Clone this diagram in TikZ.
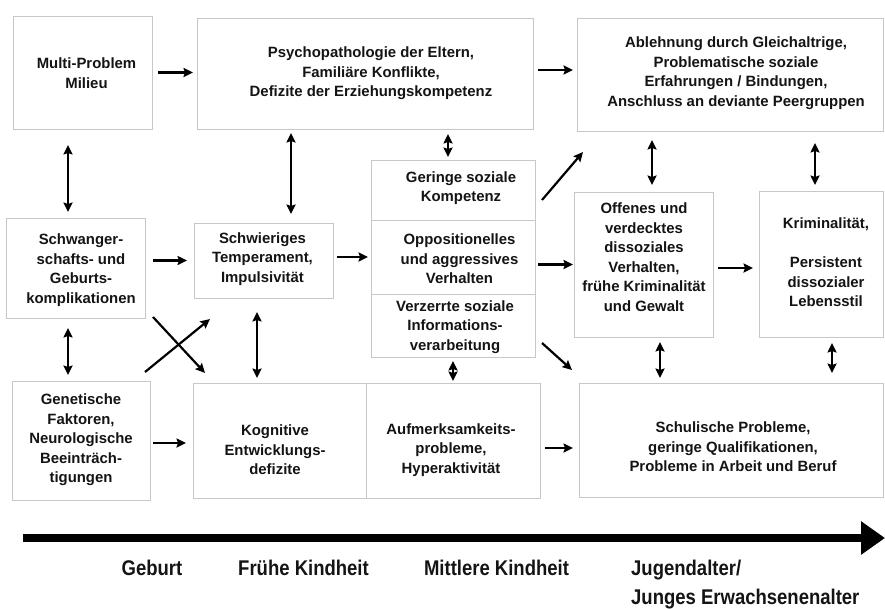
\documentclass[tikz,border=0pt]{standalone}
\usepackage{fontspec}
\setmainfont{Liberation Sans}
\usetikzlibrary{arrows.meta,calc}
\begin{document}
\begin{tikzpicture}[x=1pt,y=-1pt,
  box/.style={draw=black!22, line width=0.9pt, inner sep=0pt, outer sep=0pt},
  txt/.style={align=center, inner sep=0pt, text=black!92, font=\bfseries\fontsize{14.9}{19.5}\selectfont},
  lbl/.style={inner sep=0pt, text=black!92, font=\bfseries\fontsize{18.5}{22}\selectfont},
  arr/.style={draw, line width=2.2pt, -{Stealth[length=9.5pt,width=9pt,inset=1.5pt]}},
  dar/.style={draw, line width=2.2pt, {Stealth[length=9.5pt,width=9pt,inset=1.5pt]}-{Stealth[length=9.5pt,width=9pt,inset=1.5pt]}},
  tl/.style={draw, line width=8pt, -{Triangle[length=24pt,width=32pt]}}]
\fill[white] (0,0) rectangle (885,608);
\useasboundingbox (0,0) rectangle (885,608);

% boxes
\node[box, minimum width=139pt, minimum height=113pt] (multi) at (82.5,72.5) {};
\node[box, minimum width=336pt, minimum height=111pt] (psy) at (365,73.5) {};
\node[box, minimum width=306pt, minimum height=113pt] (abl) at (730,74.5) {};
\node[box, minimum width=139pt, minimum height=100pt] (schw) at (75.5,268) {};
\node[box, minimum width=139pt, minimum height=75pt] (temp) at (263.5,260.5) {};
\node[box, minimum width=164pt, minimum height=60pt] (ger) at (453,190) {};
\node[box, minimum width=164pt, minimum height=74pt] (opp) at (453,257) {};
\node[box, minimum width=164pt, minimum height=63pt] (ver) at (453,325.5) {};
\node[box, minimum width=139pt, minimum height=145pt] (off) at (643.5,264.5) {};
\node[box, minimum width=124pt, minimum height=146pt] (krim) at (821,264) {};
\node[box, minimum width=138pt, minimum height=119pt] (gen) at (81,440.5) {};
\node[box, minimum width=173pt, minimum height=115pt] (kog) at (279.5,440.5) {};
\node[box, minimum width=174pt, minimum height=115pt] (auf) at (453,440.5) {};
\node[box, minimum width=304pt, minimum height=114pt] (sch) at (731,440) {};

% texts
\node[txt] (multiT) at (86.5,73) {Multi-Problem\\Milieu};
\node[txt] (psyT) at (371,73.5) {Psychopathologie der Eltern,\\Familiäre Konflikte,\\Defizite der Erziehungskompetenz};
\node[txt] (ablT) at (736,73) {Ablehnung durch Gleichaltrige,\\Problematische soziale\\Erfahrungen / Bindungen,\\Anschluss an deviante Peergruppen};
\node[txt] (schwT) at (81,270) {Schwanger-\\schafts- und\\Geburts-\\komplikationen};
\node[txt] (tempT) at (262.5,259) {Schwieriges\\Temperament,\\Impulsivität};
\node[txt] (gerT) at (461,188) {Geringe soziale\\Kompetenz};
\node[txt] (oppT) at (459.5,259) {Oppositionelles\\und aggressives\\Verhalten};
\node[txt] (verT) at (455,327) {Verzerrte soziale\\Informations-\\verarbeitung};
\node[txt] (offT) at (644,257) {Offenes und\\verdecktes\\dissoziales\\Verhalten,\\frühe Kriminalität\\und Gewalt};
\node[txt] (krimT) at (826,262.5) {Kriminalität,\\[19.5pt]Persistent\\dissozialer\\Lebensstil};
\node[txt] (genT) at (81,440) {Genetische\\Faktoren,\\Neurologische\\Beeinträch-\\tigungen};
\node[txt] (kogT) at (275,450) {Kognitive\\Entwicklungs-\\defizite};
\node[txt] (aufT) at (451,450) {Aufmerksamkeits-\\probleme,\\Hyperaktivität};
\node[txt] (schT) at (733,447) {Schulische Probleme,\\geringe Qualifikationen,\\Probleme in Arbeit und Beruf};

% helper coordinates
\coordinate (c3) at ([shift={(-14.5,0)}]multi.south);
\coordinate (c4) at ([shift={(27.5,0)}]temp.north);
\coordinate (c5) at ([shift={(-5,0)}]ger.north);
\coordinate (c7) at ([shift={(8.5,0)}]off.north);
\coordinate (c8) at ([shift={(-6,0)}]krim.north);
\coordinate (c11) at ([shift={(-13,0)}]gen.north);
\coordinate (c13) at ([shift={(-6.5,0)}]temp.south);
\coordinate (c18) at ([shift={(16.5,0)}]off.south);
\coordinate (c19) at ([shift={(11,0)}]krim.south);
\coordinate (c2) at ([shift={(0,-3.5)}]psy.east);
\coordinate (c17) at ([shift={(0,3.5)}]off.east);
\coordinate (c20) at ([shift={(0,2.5)}]gen.east);
\coordinate (c21) at ([shift={(0,7.5)}]auf.east);

% connectors
\draw[arr, shorten <=6pt, shorten >=4pt] (multi.east) -- (multi.east -| psy.west);
\draw[arr, shorten <=5pt, shorten >=4pt] (c2) -- (c2 -| abl.west);
\draw[dar, shorten <=16pt, shorten >=6pt] (c3) -- (c3 |- schw.north);
\draw[dar, shorten <=4pt, shorten >=9pt] (c4 |- psy.south) -- (c4);
\draw[dar, shorten <=5pt, shorten >=3pt] (c5 |- psy.south) -- (c5);
\draw[arr] ([shift={(7,10)}]ger.east) -- ([shift={(6,21)}]abl.south west);
\draw[dar, shorten <=9pt, shorten >=7pt] (c7 |- abl.south) -- (c7);
\draw[dar, shorten <=12pt, shorten >=6pt] (c8 |- abl.south) -- (c8);
\draw[arr, shorten <=8pt, shorten >=7pt] (temp.west -| schw.east) -- (temp.west);
\draw[arr, shorten <=4pt, shorten >=3pt] (opp.west -| temp.east) -- (opp.west);
\draw[dar, shorten <=10pt, shorten >=6pt] (c11 |- schw.south) -- (c11);
\draw[arr] ([shift={(-5,-9)}]gen.north east) -- ([shift={(16,21)}]temp.south west);
\draw[arr] ([shift={(8,-1)}]schw.south east) -- ([shift={(12,-10)}]kog.north west);
\draw[dar, shorten <=14pt, shorten >=5pt] (c13) -- (c13 |- kog.north);
\draw[arr, shorten <=3pt, shorten >=1pt] (off.west -| opp.east) -- (off.west);
\draw[arr] ([shift={(7,-14)}]ver.south east) -- ([shift={(-7,-13)}]sch.north west);
\draw[dar, shorten <=4pt, shorten >=2pt] (ver.south) -- (auf.north);
\draw[arr, shorten <=5pt, shorten >=6pt] (c17) -- (c17 -| krim.west);
\draw[dar, shorten <=5pt, shorten >=5pt] (c18) -- (c18 |- sch.north);
\draw[dar, shorten <=6pt, shorten >=10pt] (c19) -- (c19 |- sch.north);
\draw[arr, shorten <=3pt, shorten >=7pt] (c20) -- (c20 -| kog.west);
\draw[arr, shorten <=5pt, shorten >=6pt] (c21) -- (c21 -| sch.west);

% timeline
\coordinate (tl0) at (23,538);
\coordinate (tl1) at (885,538);
\draw[tl] (tl0) -- (tl1);
\node[lbl, anchor=base] (geb) at (152,575) {\scalebox{1}[1.15]{Geburt}};
\node[lbl, anchor=base] (fk) at (303.5,575) {\scalebox{1}[1.15]{Frühe Kindheit}};
\node[lbl, anchor=base] (mk) at (496.5,575) {\scalebox{1}[1.15]{Mittlere Kindheit}};
\node[lbl, anchor=base west] (jug) at (631,575) {\scalebox{1}[1.15]{Jugendalter/}};
\node[lbl, anchor=base west] (jung) at (631,604) {\scalebox{1}[1.15]{Junges Erwachsenenalter}};
\end{tikzpicture}
\end{document}
